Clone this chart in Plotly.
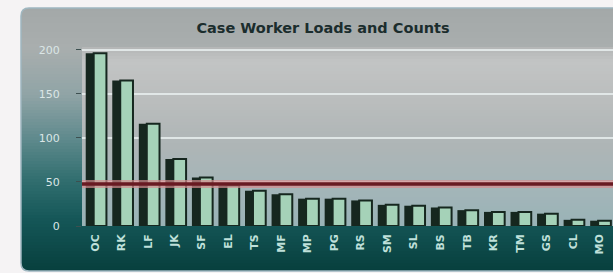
import plotly.graph_objects as go

# ---------------- data ----------------
categories = ["OC", "RK", "LF", "JK", "SF", "EL", "TS", "MF", "MP", "PG",
              "RS", "SM", "SL", "BS", "TB", "KR", "TM", "GS", "CL", "MO"]
loads = [196, 165, 116, 76, 55, 46, 40, 36, 31, 31,
         29, 24, 23, 21, 18, 16, 16, 14, 7, 6]
average_load = 47.5
y_ticks = [0, 50, 100, 150, 200]
title_text = "Case Worker Loads and Counts"

# ---------------- layout geometry ----------------
W, H = 613, 273
ML, MR, MT, MB = 82, 0, 47, 47
PW, PH = W - ML - MR, H - MT - MB
PAPER = "#f5f3f4"


def xp(px):
    return (px - ML) / PW


def yp(py):
    return (H - MB - py) / PH


def hex2rgb(h):
    h = h.lstrip("#")
    return tuple(int(h[i:i + 2], 16) for i in (0, 2, 4))


def interp(stops, t):
    for (t0, c0), (t1, c1) in zip(stops[:-1], stops[1:]):
        if t0 <= t <= t1:
            f = 0 if t1 == t0 else (t - t0) / (t1 - t0)
            a, b = hex2rgb(c0), hex2rgb(c1)
            return "rgb(%d,%d,%d)" % tuple(round(a[i] + (b[i] - a[i]) * f) for i in range(3))
    return stops[-1][1]


def gradient_strips(x0, x1, y0, y1, stops, step=3):
    out = []
    py = y0
    while py < y1:
        pn = min(py + step, y1)
        t = ((py + pn) / 2 - y0) / (y1 - y0)
        out.append(dict(type="rect", xref="paper", yref="paper",
                        x0=xp(x0), x1=xp(x1), y0=yp(min(pn + 0.6, y1)), y1=yp(py),
                        fillcolor=interp(stops, t), line=dict(width=0), layer="below"))
        py = pn
    return out


shapes = []
# outer panel gradient (grey -> dark teal)
panel_stops = [(0.0, "#a3a8a8"), (0.15, "#a9aeae"), (0.33, "#90a4a6"),
               (0.5, "#5e898c"), (0.65, "#326f70"), (0.8, "#155758"), (1.0, "#073f3d")]
shapes += gradient_strips(21, 613, 8, 271, panel_stops)
# plot-area gradient
plot_stops = [(0.0, "#b3b6b6"), (0.08, "#c2c4c4"), (0.3, "#babdbd"),
              (0.55, "#aeb5b6"), (0.78, "#a4b5b8"), (1.0, "#99b3b7")]
shapes += gradient_strips(ML, W, MT, H - MB, plot_stops)

# rounded-corner masks and panel border
r = 8
PX0, PY0, PY1 = 21, 8, 271
shapes.append(dict(type="path", xref="paper", yref="paper",
                   path=(f"M {xp(PX0 - 1)},{yp(PY0 + r)} L {xp(PX0 - 1)},{yp(PY0 - 1)} "
                         f"L {xp(PX0 + r)},{yp(PY0 - 1)} L {xp(PX0 + r)},{yp(PY0)} "
                         f"Q {xp(PX0)},{yp(PY0)} {xp(PX0)},{yp(PY0 + r)} Z"),
                   fillcolor=PAPER, line=dict(width=0), layer="below"))
shapes.append(dict(type="path", xref="paper", yref="paper",
                   path=(f"M {xp(PX0 - 1)},{yp(PY1 - r)} L {xp(PX0 - 1)},{yp(PY1 + 1)} "
                         f"L {xp(PX0 + r)},{yp(PY1 + 1)} L {xp(PX0 + r)},{yp(PY1)} "
                         f"Q {xp(PX0)},{yp(PY1)} {xp(PX0)},{yp(PY1 - r)} Z"),
                   fillcolor=PAPER, line=dict(width=0), layer="below"))
x0, x1, y0, y1 = xp(PX0), xp(640), yp(PY0), yp(PY1)
shapes.append(dict(type="path", xref="paper", yref="paper",
                   path=(f"M {xp(PX0 + r)},{y0} L {x1},{y0} L {x1},{y1} L {xp(PX0 + r)},{y1} "
                         f"Q {x0},{y1} {x0},{yp(PY1 - r)} L {x0},{yp(PY0 + r)} Q {x0},{y0} {xp(PX0 + r)},{y0} Z"),
                   line=dict(color="#9fb7c0", width=1.5), layer="below"))
# average line (halo + core)
shapes.append(dict(type="line", xref="paper", yref="y", x0=0, x1=1,
                   y0=average_load, y1=average_load,
                   line=dict(color="rgba(214,140,142,0.7)", width=8), layer="above"))
shapes.append(dict(type="line", xref="paper", yref="y", x0=0, x1=1,
                   y0=average_load, y1=average_load,
                   line=dict(color="#681a22", width=3.5), layer="above"))

fig = go.Figure()
fig.add_trace(go.Bar(x=categories, y=loads, width=0.78, offset=-0.36,
                     marker=dict(color="#16271f", line=dict(width=0)),
                     hoverinfo="skip", showlegend=False))
fig.add_trace(go.Bar(x=categories, y=loads, width=0.48, offset=-0.06,
                     marker=dict(color="#a5d2b8", line=dict(color="#16271f", width=2)),
                     showlegend=False))

fig.update_layout(
    width=W, height=H,
    margin=dict(l=ML, r=MR, t=MT, b=MB, pad=0),
    paper_bgcolor=PAPER,
    plot_bgcolor="rgba(0,0,0,0)",
    barmode="overlay",
    shapes=shapes,
    title=dict(text=title_text, xref="container", x=323 / W, xanchor="center",
               yref="container", y=1 - 28 / H, yanchor="middle",
               font=dict(family="DejaVu Sans", size=14.5, color="#1b2d2d", weight="bold")),
    xaxis=dict(tickangle=-90, showgrid=False, showline=False, zeroline=False,
               ticks="", ticklabelstandoff=5,
               tickfont=dict(family="DejaVu Sans", size=11, color="#bfe0da", weight="bold")),
    yaxis=dict(range=[0, 203], tickvals=y_ticks, showgrid=True,
               gridcolor="rgba(232,238,238,0.85)", gridwidth=1.5,
               zeroline=False, showline=False, ticks="outside", ticklen=5,
               tickcolor="#3d5050", ticklabelstandoff=14,
               tickfont=dict(family="DejaVu Sans", size=11, color="#dbe6e6")),
)

fig.write_html("out.html", config={"displayModeBar": False},
               post_script="document.body.style.margin='0px';")
